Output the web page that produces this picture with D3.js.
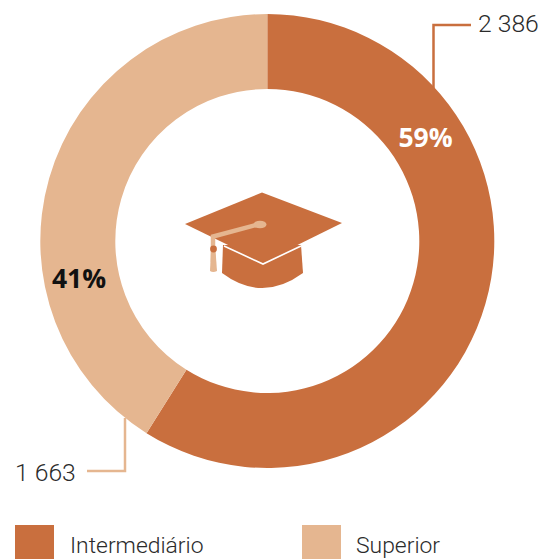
<!DOCTYPE html>
<html><head><meta charset="utf-8">
<style>html,body{margin:0;padding:0;background:#fff}svg{display:block}</style>
<script src="https://cdn.jsdelivr.net/npm/d3@7/dist/d3.min.js"></script></head>
<body><div id="c"></div>
<script>
const categories=["Intermediário","Superior"];
const values=[2386,1663];
const valueLabels=["2 386","1 663"];
const percentLabels=["59%","41%"];
const colors=["#C96F3E","#E5B690"];
const W=543,H=559,cx=267.3,cy=241,R=227,r=152;
const svg=d3.select("#c").append("svg").attr("width",W).attr("height",H);
const font="Roboto, sans-serif";
const boldFont="'Open Sans', sans-serif";
const pie=d3.pie().sort(null)(values);
const arc=d3.arc().innerRadius(r).outerRadius(R);
const g=svg.append("g").attr("transform",`translate(${cx},${cy})`);
g.selectAll("path").data(pie).join("path").attr("d",arc).attr("fill",(d,i)=>colors[i]);
// leaders
svg.append("path").attr("d","M433.5 88V25H471").attr("fill","none").attr("stroke",colors[0]).attr("stroke-width",2.5);
svg.append("path").attr("d","M125 418V471H87").attr("fill","none").attr("stroke",colors[1]).attr("stroke-width",2.5);
svg.append("text").attr("x",478).attr("y",31.5).text(valueLabels[0]).attr("font-family",font).attr("font-size",24.7).attr("font-weight",300).attr("fill","#2b2b2b");
svg.append("text").attr("x",15).attr("y",480.5).text(valueLabels[1]).attr("font-family",font).attr("font-size",24.7).attr("font-weight",300).attr("fill","#2b2b2b");
svg.append("text").attr("x",425.5).attr("y",147).attr("text-anchor","middle").text(percentLabels[0]).attr("font-family",boldFont).attr("font-size",26.5).attr("font-weight",700).attr("fill","#fff");
svg.append("text").attr("x",79).attr("y",288).attr("text-anchor","middle").text(percentLabels[1]).attr("font-family",boldFont).attr("font-size",26.5).attr("font-weight",700).attr("fill","#111");
// cap
const cap=svg.append("g");
cap.append("path").attr("d","M223 245 L301 245 L303 273 Q262 303 222 273Z").attr("fill",colors[0]);
cap.append("path").attr("d","M262 192.5 L342 223 L263 262 L185 224Z").attr("fill",colors[0]);
cap.append("path").attr("d","M224 246 L263 264 L301 246").attr("fill","none").attr("stroke","#fff").attr("stroke-width",1.6);
cap.append("path").attr("d","M258 224.5 L213 236.5 V262").attr("fill","none").attr("stroke",colors[1]).attr("stroke-width",4.5);
cap.append("ellipse").attr("cx",260).attr("cy",224.5).attr("rx",6.5).attr("ry",3.8).attr("fill",colors[1]);
cap.append("path").attr("d","M211 250H215.5L217 271Q213 273 210 271Z").attr("fill",colors[1]);
cap.append("circle").attr("cx",213.5).attr("cy",249).attr("r",3.4).attr("fill",colors[0]);
// legend
const lx=[15,302],tx=[70,356];
categories.forEach((c,i)=>{
 svg.append("rect").attr("x",lx[i]).attr("y",525).attr("width",39).attr("height",34).attr("fill",colors[i]);
 svg.append("text").attr("x",tx[i]).attr("y",553).text(c).attr("font-family",font).attr("font-size",22.9).attr("font-weight",300).attr("fill","#2b2b2b");
});
</script></body></html>
